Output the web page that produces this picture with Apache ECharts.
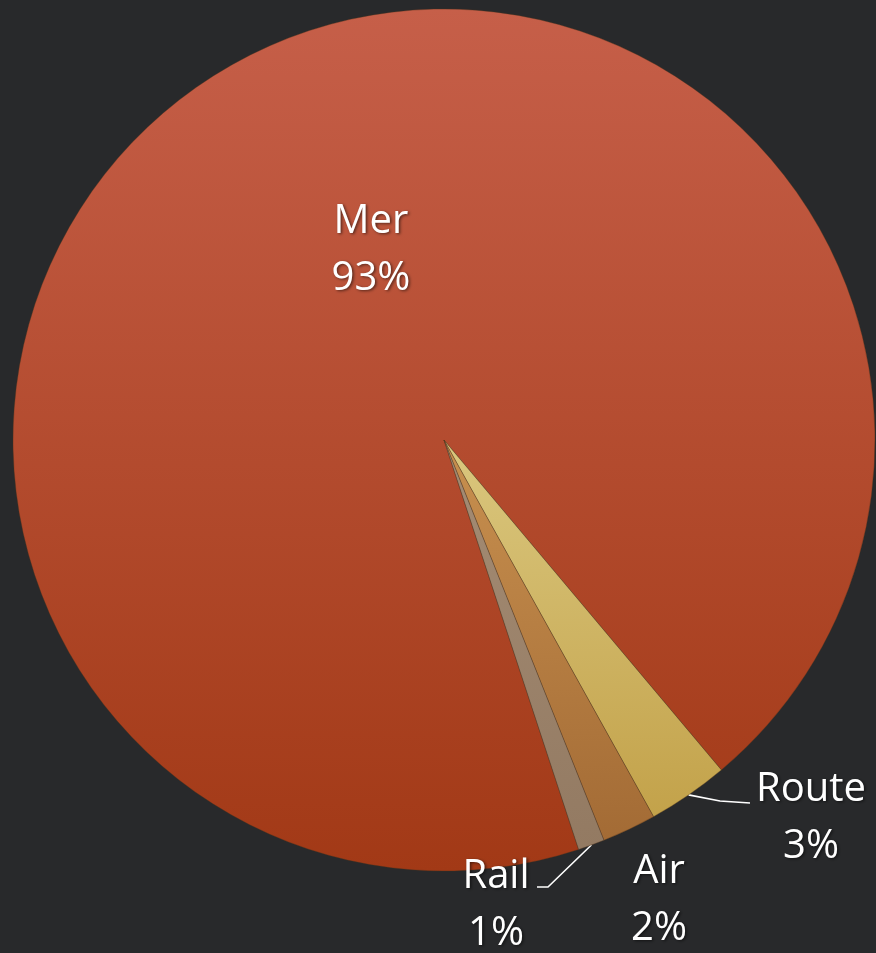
<!DOCTYPE html>
<html>
<head>
<meta charset="utf-8">
<script src="https://cdn.jsdelivr.net/npm/echarts@6/dist/echarts.min.js"></script>
<style>
html,body{margin:0;padding:0;background:#28292b;}
#chart{width:876px;height:953px;}
</style>
</head>
<body>
<div id="chart"></div>
<script>
// Data
var categories = ['Mer', 'Route', 'Air', 'Rail'];
var values = [93.45, 3.03, 2.02, 0.99];
var percentLabels = ['93%', '3%', '2%', '1%'];

// Styling (not data)
var topColors = ['#C65F49', '#DAC77E', '#C8904F', '#A48C74'];
var bottomColors = ['#A23916', '#C3A24A', '#A36B35', '#937A62'];
var labelPos = [[371, 250], [811, 818], [659, 900], [496, 905]];
var showLine = [false, true, false, true];

var chart = echarts.init(document.getElementById('chart'), null, {renderer: 'canvas'});

var data = categories.map(function (c, i) {
  return {
    name: c,
    value: values[i],
    itemStyle: {
      color: new echarts.graphic.LinearGradient(0, 0, 0, 1, [
        {offset: 0, color: topColors[i]},
        {offset: 1, color: bottomColors[i]}
      ])
    },
    label: {position: i === 0 ? 'inside' : 'outside'},
    labelLine: {show: showLine[i]}
  };
});

chart.setOption({
  backgroundColor: '#28292b',
  animation: false,
  series: [{
    type: 'pie',
    center: [444, 440],
    radius: 431,
    startAngle: -71.8,
    clockwise: true,
    avoidLabelOverlap: false,
    data: data,
    itemStyle: {borderColor: 'rgba(80,50,25,0.45)', borderWidth: 0.8},
    label: {
      show: true,
      color: '#ffffff',
      fontFamily: 'Open Sans',
      fontSize: 40,
      lineHeight: 57,
      align: 'center',
      textShadowColor: 'rgba(0,0,0,0.55)',
      textShadowBlur: 3,
      textShadowOffsetX: 1.5,
      textShadowOffsetY: 1.5,
      formatter: function (p) { return p.name + '\n' + percentLabels[p.dataIndex]; }
    },
    labelLine: {
      lineStyle: {color: '#ffffff', width: 1.6}
    },
    labelLayout: function (params) {
      var i = params.dataIndex;
      var res = {x: labelPos[i][0], y: labelPos[i][1], align: 'center', verticalAlign: 'middle'};
      var s = params.labelLinePoints ? params.labelLinePoints[0] : null;
      if (i === 1 && s) {
        res.labelLinePoints = [s, [720, 801], [750, 803]];
      }
      if (i === 3 && s) {
        res.labelLinePoints = [s, [548, 887], [537, 887]];
      }
      return res;
    }
  }]
});
</script>
</body>
</html>
